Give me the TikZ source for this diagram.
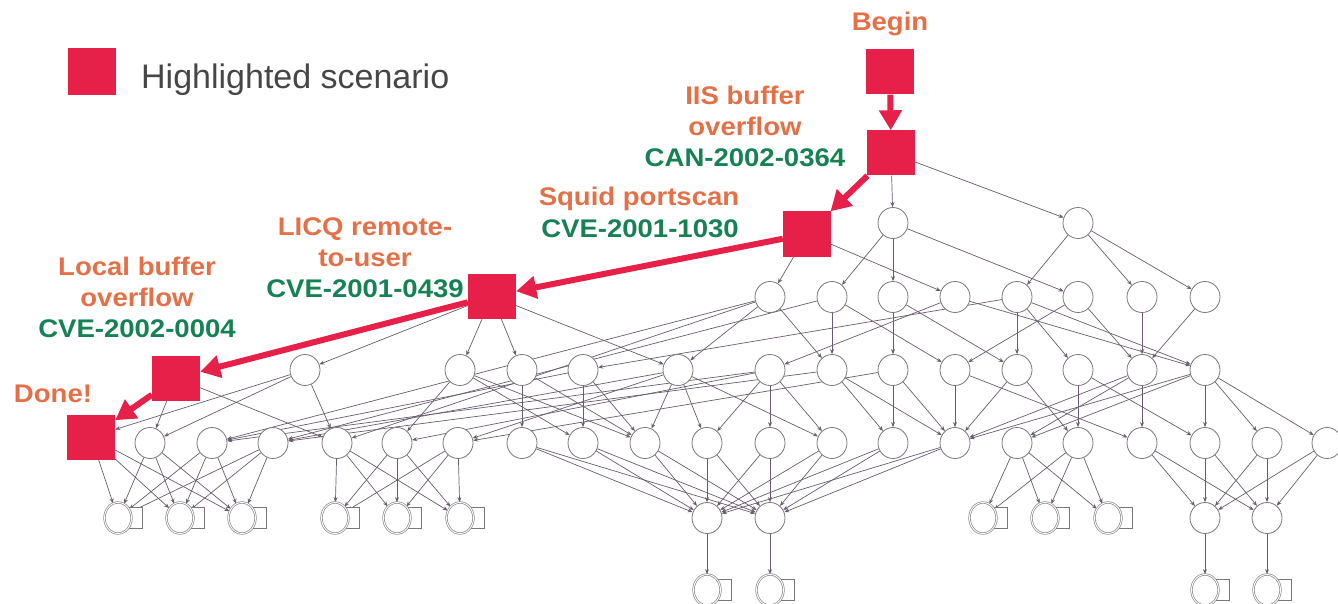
\documentclass[tikz,border=0pt]{standalone}
\usepackage{fontspec}
\setmainfont{Liberation Sans}
\newfontfamily\labfont{Liberation Sans}[FakeStretch=1.08]
\usetikzlibrary{shapes.geometric,arrows.meta,backgrounds}
\definecolor{hred}{RGB}{230,32,72}
\definecolor{horange}{RGB}{228,112,72}
\definecolor{hgreen}{RGB}{22,130,84}
\definecolor{edgec}{RGB}{105,92,110}
\definecolor{nodec}{RGB}{120,120,120}
\definecolor{legc}{RGB}{70,70,70}
\begin{document}
\begin{tikzpicture}[x=1pt,y=-1pt,
  el/.style={ellipse,draw=nodec,line width=0.8pt,fill=white,minimum width=30pt,minimum height=31pt,inner sep=0pt},
  dbn/.style={ellipse,draw=nodec!85,double=white,double distance=0.9pt,line width=0.7pt,fill=white,minimum width=27pt,minimum height=31pt,inner sep=0pt},
  dbtab/.style={draw=nodec,line width=0.7pt,fill=white},
  hl/.style={rectangle,fill=hred,minimum width=48pt,minimum height=45pt,inner sep=0pt},
  edge/.style={draw=edgec,line width=0.7pt,-{Stealth[length=5pt,width=4pt]}},
  redarrow/.style={draw=hred,line width=6pt,-{Triangle[length=20pt,width=22pt]}},
  lab/.style={text=horange,font=\labfont\bfseries\fontsize{25.5}{31}\selectfont,anchor=base,inner sep=0pt},
  cve/.style={text=hgreen,font=\labfont\bfseries\fontsize{25.5}{31}\selectfont,anchor=base,inner sep=0pt}
]
\useasboundingbox (0,0) rectangle (1338,604);

% legend
\node[hl,minimum height=47pt] (leg) at (92,71.5) {};
\node[anchor=base west,text=legc,font=\fontsize{34}{40}\selectfont,inner sep=0pt] (legt) at (141,89) {Highlighted scenario};

% highlighted scenario nodes
\node[hl] (B) at (890,72) {};
\node[hl] (I) at (891,153) {};
\node[hl] (S) at (807,234) {};
\node[hl] (L) at (492,296) {};
\node[hl] (Lo) at (176,378) {};
\node[hl] (D) at (91,437) {};

% row 1
\node[el] (a1) at (893,223) {};
\node[el] (a2) at (1078,223) {};
% row 2
\foreach \n/\x in {1/770,2/832,3/893,4/955,5/1017,6/1078,7/1142,8/1205}
  \node[el] (b\n) at (\x,297) {};
% row 3
\foreach \n/\x in {1/305,2/460,3/522,4/583,5/678,6/770,7/832,8/893,9/955,10/1017,11/1078,12/1142,13/1205}
  \node[el] (c\n) at (\x,370) {};
% row 4
\foreach \n/\x in {1/150,2/212,3/273,4/337,5/397,6/458,7/522,8/583,9/645,10/707,11/770,12/832,13/893,14/955,15/1017,16/1078,17/1142,18/1205,19/1267,20/1327}
  \node[el] (d\n) at (\x,443) {};
% row 5
\foreach \n/\x in {1/118,2/180,3/242,4/335,5/397,6/460,9/983,10/1045,11/1108}{
  \draw[dbtab] ({\x+10},507) rectangle ({\x+24},528);
  \node[dbn] (e\n) at (\x,518) {};
}
\foreach \n/\x in {7/707,8/770,12/1205,13/1267}
  \node[el] (e\n) at (\x,518) {};
% row 6
\foreach \n/\x in {1/707,2/770,3/1205,4/1267}{
  \draw[dbtab] ({\x+10},579) rectangle ({\x+24},600);
  \node[dbn] (f\n) at (\x,590) {};
}

% grey edges
\begin{pgfonlayer}{background}
\foreach \s/\t in {I/a1,I/a2,S/b1,S/b4,a1/b2,a1/b3,a1/b6,a2/b5,a2/b7,a2/b8,
  L/c1,L/c2,L/c3,L/c5,
  b1/c5,b1/c7,b1/d2,b1/d4,b2/c7,b2/c9,b2/d3,b3/c8,b3/c10,b4/c6,b4/c13,
  b5/c10,b5/c11,b5/c13,b5/c4,b6/c12,b6/c9,b7/c12,b8/c12,
  Lo/d1,Lo/d4,c1/D,c1/d1,c1/d4,
  c2/d8,c2/d9,c2/d5,c3/d7,c3/d9,c4/d8,c4/d2,c4/d9,
  c5/d9,c5/d10,c5/d12,c5/d6,c5/d3,
  c6/d10,c6/d11,c6/d12,c6/d5,c6/d2,
  c7/d13,c7/d14,c7/d3,c8/d13,c8/d14,c8/d6,
  c9/d14,c9/d17,c10/d14,c10/d16,c11/d16,c11/d18,
  c12/d17,c12/d14,c12/d15,c13/d18,c13/d19,c13/d20,c13/d14,c13/d15,
  D/e1,D/e2,D/e3,d1/e1,d1/e2,d1/e3,d2/e1,d2/e2,d2/e3,d3/e1,d3/e2,d3/e3,
  d4/e4,d4/e5,d4/e6,d5/e4,d5/e5,d5/e6,d6/e4,d6/e5,d6/e6,
  d7/e7,d7/e8,d8/e7,d8/e8,d9/e7,d9/e8,d10/e7,d10/e8,d11/e7,d11/e8,
  d12/e7,d12/e8,d13/e7,d13/e8,d14/e7,d14/e8,
  d15/e9,d15/e10,d15/e11,d16/e9,d16/e10,d16/e11,
  d17/e12,d17/e13,d18/e12,d18/e13,d19/e12,d19/e13,d20/e12,d20/e13,
  e7/f1,e8/f2,e12/f3,e13/f4}
  \draw[edge] (\s) -- (\t);
\end{pgfonlayer}

% labels
\node[lab] (tb) at (890,31) {Begin};
\node[lab] (ti1) at (745,105) {IIS buffer};
\node[lab] (ti2) at (745,136) {overflow};
\node[cve] (ti3) at (745,167) {CAN-2002-0364};
\node[lab] (ts1) at (639,205) {Squid portscan};
\node[cve] (ts2) at (640,237) {CVE-2001-1030};
\node[lab] (tl1) at (365,235) {LICQ remote-};
\node[lab] (tl2) at (365,266) {to-user};
\node[cve] (tl3) at (365,297) {CVE-2001-0439};
\node[lab] (to1) at (137,275) {Local buffer};
\node[lab] (to2) at (137,306) {overflow};
\node[cve] (to3) at (137,337) {CVE-2002-0004};
\node[lab] (td) at (53,402) {Done!};

% red scenario arrows
\draw[redarrow] (B) -- (I);
\draw[redarrow] (I) -- (S);
\draw[redarrow] (S) -- (L);
\draw[redarrow] (L) -- (Lo);
\draw[redarrow] (Lo) -- (D);
\end{tikzpicture}
\end{document}
